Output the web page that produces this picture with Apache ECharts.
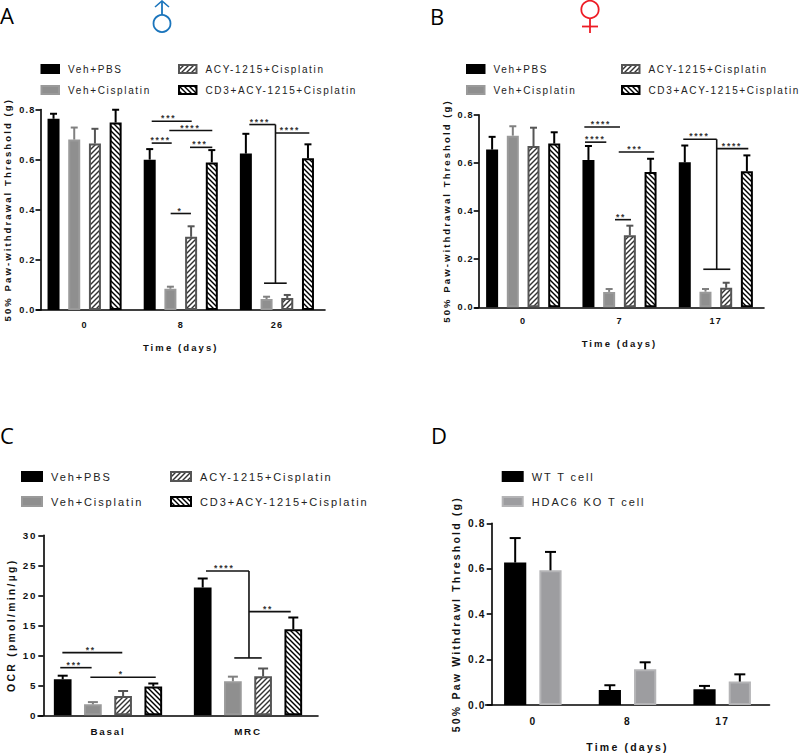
<!DOCTYPE html>
<html>
<head>
<meta charset="utf-8">
<style>
html,body{margin:0;padding:0;background:#fff}
#c{width:800px;height:753px}
text[style*="9.1px"]{letter-spacing:1.2px}
text[style*="9.8px"]{letter-spacing:1.8px}
text[style*="9.5px"]{letter-spacing:2.1px}
text[style*="10.2px"]{letter-spacing:1.2px}
text[style*="10.5px"]{letter-spacing:2.2px}
text[style*="10.4px"]{letter-spacing:2.3px}
text[style*="8.5px"]{letter-spacing:1.8px}
text[style*="10px"]{letter-spacing:1.65px}
text[style*="11px"]{letter-spacing:1.9px}
</style>
<script src="https://cdn.jsdelivr.net/npm/echarts@6/dist/echarts.min.js"></script>
</head>
<body>
<div id="c"></div>
<script>
// ---- series names
const fourNames = ['Veh+PBS', 'Veh+Cisplatin', 'ACY-1215+Cisplatin', 'CD3+ACY-1215+Cisplatin'];
const twoNames = ['WT T cell', 'HDAC6 KO T cell'];

// ---- Panel A
const aCategories = ['0', '8', '26'];
const aVehPbs = [0.763, 0.600, 0.624];
const aVehCis = [0.680, 0.085, 0.044];
const aAcy = [0.664, 0.292, 0.048];
const aCd3 = [0.748, 0.589, 0.605];
const aVehPbsTop = [0.783, 0.642, 0.703];
const aVehCisTop = [0.728, 0.093, 0.053];
const aAcyTop = [0.723, 0.334, 0.060];
const aCd3Top = [0.799, 0.638, 0.661];
const aSigLines = [[1.198,0.753,1.614,0.753],[1.381,0.716,1.828,0.716],[1.198,0.666,1.406,0.666],[1.596,0.649,1.828,0.649],[1.395,0.385,1.606,0.385],[2.213,0.740,2.485,0.740],[2.485,0.740,2.485,0.107],[2.366,0.107,2.602,0.107],[2.485,0.706,2.837,0.706]];
const aSigLabels = [[1.375,0.753,'***'],[1.600,0.716,'****'],[1.291,0.666,'****'],[1.700,0.649,'***'],[1.492,0.385,'*'],[2.324,0.740,'****'],[2.636,0.706,'****']];

// ---- Panel B
const bCategories = ['0', '7', '17'];
const bVehPbs = [0.655, 0.612, 0.602];
const bVehCis = [0.713, 0.064, 0.065];
const bAcy = [0.670, 0.299, 0.081];
const bCd3 = [0.680, 0.562, 0.565];
const bVehPbsTop = [0.708, 0.670, 0.672];
const bVehCisTop = [0.752, 0.076, 0.076];
const bAcyTop = [0.746, 0.339, 0.102];
const bCd3Top = [0.727, 0.617, 0.631];
const bSigLines = [[1.135,0.749,1.505,0.749],[1.142,0.686,1.363,0.686],[1.492,0.645,1.861,0.645],[1.453,0.364,1.619,0.364],[2.162,0.698,2.509,0.698],[2.509,0.698,2.509,0.158],[2.370,0.158,2.650,0.158],[2.509,0.659,2.837,0.659]];
const bSigLabels = [[1.308,0.749,'****'],[1.249,0.686,'****'],[1.661,0.645,'***'],[1.516,0.364,'**'],[2.329,0.698,'****'],[2.668,0.659,'****']];

// ---- Panel C
const cCategories = ['Basal', 'MRC'];
const cVehPbs = [6.0, 21.3];
const cVehCis = [1.83, 5.67];
const cAcy = [3.2, 6.5];
const cCd3 = [4.8, 14.33];
const cVehPbsTop = [6.6, 22.8];
const cVehCisTop = [2.2, 6.44];
const cAcyTop = [4.05, 7.8];
const cCd3Top = [5.3, 16.3];
const cSigLines = [[0.174,10.44,0.602,10.44],[0.159,7.94,0.383,7.94],[0.374,6.33,0.841,6.33],[1.2,24.06,1.507,24.06],[1.507,24.06,1.507,9.56],[1.402,9.56,1.598,9.56],[1.507,17.28,1.805,17.28]];
const cSigLabels = [[0.377,10.44,'**'],[0.259,7.94,'***'],[0.595,6.33,'*'],[1.331,24.06,'****'],[1.643,17.28,'**']];

// ---- Panel D
const dCategories = ['0', '8', '17'];
const dWt = [0.627, 0.066, 0.069];
const dKo = [0.593, 0.157, 0.103];
const dWtTop = [0.735, 0.087, 0.084];
const dKoTop = [0.674, 0.188, 0.135];

// ---- Axis ticks
const thresholdTicks = [0, 0.2, 0.4, 0.6, 0.8];
const ocrTicks = [0, 5, 10, 15, 20, 25, 30];

const FONT = '"Liberation Sans", Arial, sans-serif';

function hatch(dir, line, bg) {
  const n = 5, cv = document.createElement('canvas');
  cv.width = n; cv.height = n;
  const g = cv.getContext('2d');
  g.fillStyle = bg; g.fillRect(0, 0, n, n);
  g.strokeStyle = line; g.lineWidth = 1.4;
  for (let k = -n; k <= n; k += n) {
    g.beginPath();
    if (dir > 0) { g.moveTo(k - 1, n + 1); g.lineTo(k + n + 1, -1); }
    else { g.moveTo(k - 1, -1); g.lineTo(k + n + 1, n + 1); }
    g.stroke();
  }
  return {image: cv, repeat: 'repeat'};
}

const styleFour = [
  {color: '#000', borderColor: '#000', err: '#000'},
  {color: '#8f8f8f', borderColor: '#9a9a9a', err: '#808080'},
  {color: hatch(1, '#333', '#fff'), borderColor: '#555', err: '#555'},
  {color: hatch(-1, '#000', '#fff'), borderColor: '#000', err: '#000'}
];
const styleTwo = [
  {color: '#000', borderColor: '#000', err: '#000'},
  {color: '#9d9da0', borderColor: '#b4b4b6', err: '#000'}
];

const panels = [
  {letter: 'A', lx: 0, ly: 4, left: 36.5, right: 325, top: 109.5, bottom: 310, yOff: -4,
   cats: aCategories, names: fourNames, vals: [aVehPbs, aVehCis, aAcy, aCd3], tops: [aVehPbsTop, aVehCisTop, aAcyTop, aCd3Top],
   styles: styleFour, barW: 12, step: 20.7, cap: 3.5, ticks: thresholdTicks, dec: 1,
   yName: '50% Paw-withdrawal Threshold (g)', yGap: 28, xName: 'Time (days)', xGap: 32,
   xMargin: 10, yMargin: 5,
   tickFont: 9.1, nameFont: 9.5, sigLines: aSigLines, sigLabels: aSigLabels,
   leg: [{x: 40.5, y: 64}, {x: 178, y: 64}], legW: 17.5, legH: 8, legFont: 10, legGap: 11, legPad: 4},
  {letter: 'B', lx: 430, ly: 5, left: 475, right: 764, top: 114.7, bottom: 307.3, yOff: -3.7,
   cats: bCategories, names: fourNames, vals: [bVehPbs, bVehCis, bAcy, bCd3], tops: [bVehPbsTop, bVehCisTop, bAcyTop, bCd3Top],
   styles: styleFour, barW: 12, step: 20.7, cap: 3.5, ticks: thresholdTicks, dec: 1,
   yName: '50% Paw-withdrawal Threshold (g)', yGap: 27, xName: 'Time (days)', xGap: 31,
   xMargin: 9, yMargin: 5,
   tickFont: 9.1, nameFont: 9.5, sigLines: bSigLines, sigLabels: bSigLabels,
   leg: [{x: 466, y: 64}, {x: 621, y: 64}], legW: 17.5, legH: 8, legFont: 10, legGap: 11, legPad: 4},
  {letter: 'C', lx: 0, ly: 424, left: 38, right: 318, top: 535.3, bottom: 715.3, yOff: -5.3,
   cats: cCategories, names: fourNames, vals: [cVehPbs, cVehCis, cAcy, cCd3], tops: [cVehPbsTop, cVehCisTop, cAcyTop, cCd3Top],
   styles: styleFour, barW: 17.7, step: 30.2, cap: 5, ticks: ocrTicks, dec: 0,
   yName: 'OCR (pmol/min/\u00b5g)', yGap: 27, xName: '', xGap: 0,
   xMargin: 11, yMargin: 6,
   tickFont: 9.8, nameFont: 10.4, sigLines: cSigLines, sigLabels: cSigLabels,
   leg: [{x: 21, y: 471}, {x: 170, y: 471}], legW: 20, legH: 9, legFont: 11, legGap: 14, legPad: 4},
  {letter: 'D', lx: 431, ly: 424, left: 485.5, right: 769.5, top: 523.3, bottom: 705, yOff: -6.2,
   cats: dCategories, names: twoNames, vals: [dWt, dKo], tops: [dWtTop, dKoTop],
   styles: styleTwo, barW: 22.2, step: 35.3, cap: 5.5, ticks: thresholdTicks, dec: 1,
   yName: '50% Paw Withdrawl Threshold (g)', yGap: 30, xName: 'Time (days)', xGap: 36,
   xMargin: 11, yMargin: 6,
   tickFont: 10.2, nameFont: 10.5, sigLines: [], sigLabels: [],
   leg: [{x: 501.7, y: 471}], legW: 20, legH: 9, legFont: 11, legGap: 14, legPad: 4}
];

const option = {animation: false, backgroundColor: '#fff', title: [], legend: [], grid: [], xAxis: [], yAxis: [], series: [], graphic: []};

panels.forEach((p, gi) => {
  option.title.push({text: p.letter, left: p.lx, top: p.ly, padding: 0,
    textStyle: {fontFamily: '"Open Sans", sans-serif', fontSize: 22, fontWeight: 'normal', color: '#000'}});
  option.grid.push({left: p.left, top: p.top, width: p.right - p.left, height: p.bottom - p.top, containLabel: false});
  const catAxis = option.xAxis.length;
  option.xAxis.push({type: 'category', gridIndex: gi, data: p.cats, boundaryGap: true,
    axisLine: {lineStyle: {color: '#000', width: 1.6}},
    axisTick: {alignWithLabel: true, length: 4, lineStyle: {color: '#000', width: 1.6}},
    axisLabel: {margin: p.xMargin, fontFamily: FONT, fontSize: p.tickFont, fontWeight: 'bold', color: '#111'},
    name: p.xName, nameLocation: 'middle', nameGap: p.xGap,
    nameTextStyle: {fontFamily: FONT, fontSize: p.nameFont, fontWeight: 'bold', color: '#111'}});
  const posAxis = option.xAxis.length;
  option.xAxis.push({type: 'value', gridIndex: gi, min: 0, max: p.cats.length, show: false});
  const tickStep = p.ticks[1] - p.ticks[0];
  option.yAxis.push({type: 'value', gridIndex: gi, min: p.ticks[0], max: p.ticks[p.ticks.length - 1], interval: tickStep, offset: p.yOff,
    splitLine: {show: false},
    axisLine: {show: true, lineStyle: {color: '#000', width: 1.6}},
    axisTick: {show: true, length: 5, lineStyle: {color: '#000', width: 1.6}},
    axisLabel: {margin: p.yMargin, fontFamily: FONT, fontSize: p.tickFont, fontWeight: 'bold', color: '#111',
      formatter: v => v.toFixed(p.dec)},
    name: p.yName, nameLocation: 'middle', nameGap: p.yGap,
    nameTextStyle: {fontFamily: FONT, fontSize: p.nameFont, fontWeight: 'bold', color: '#111'}});

  p.names.forEach((nm, i) => {
    const st = p.styles[i];
    option.series.push({type: 'bar', name: nm, xAxisIndex: catAxis, yAxisIndex: gi, data: p.vals[i],
      barWidth: p.barW, barGap: ((p.step - p.barW) / p.barW * 100) + '%',
      itemStyle: {color: st.color, borderColor: st.borderColor, borderWidth: 2}, silent: true});
  });
  p.names.forEach((nm, i) => {
    const st = p.styles[i], off = (i - (p.names.length - 1) / 2) * p.step;
    option.series.push({type: 'custom', name: 'err' + gi + i, xAxisIndex: catAxis, yAxisIndex: gi, clip: false, silent: true, z: 3,
      data: p.vals[i].map((v, k) => [k, v, p.tops[i][k]]),
      encode: {x: 0, y: [1, 2]},
      renderItem: (params, api) => {
        const a = api.coord([api.value(0), api.value(1)]), b = api.coord([api.value(0), api.value(2)]);
        const x = a[0] + off, ls = {stroke: st.err, lineWidth: 2, fill: 'none'};
        return {type: 'group', children: [
          {type: 'line', shape: {x1: x, y1: a[1], x2: x, y2: b[1]}, style: ls},
          {type: 'line', shape: {x1: x - p.cap, y1: b[1], x2: x + p.cap, y2: b[1]}, style: ls}
        ]};
      }});
  });
  if (p.sigLines.length) {
    option.series.push({type: 'custom', name: 'sig' + gi, xAxisIndex: posAxis, yAxisIndex: gi, clip: false, silent: true, z: 6,
      data: p.sigLines, encode: {x: [0, 2], y: [1, 3]},
      renderItem: (params, api) => {
        const a = api.coord([api.value(0), api.value(1)]), b = api.coord([api.value(2), api.value(3)]);
        return {type: 'line', shape: {x1: a[0], y1: a[1], x2: b[0], y2: b[1]}, style: {stroke: '#111', lineWidth: 1.6, fill: 'none'}};
      }});
    option.series.push({type: 'custom', name: 'stars' + gi, xAxisIndex: posAxis, yAxisIndex: gi, clip: false, silent: true, z: 6,
      data: p.sigLabels, encode: {x: 0, y: 1},
      renderItem: (params, api) => {
        const a = api.coord([api.value(0), api.value(1)]);
        return {type: 'text', style: {text: p.sigLabels[params.dataIndex][2], x: a[0], y: a[1] - 3, align: 'center', verticalAlign: 'middle',
          font: 'bold 8.5px ' + FONT, fill: '#333'}};
      }});
  }
  const perCol = 2;
  p.leg.forEach((l, c) => {
    option.legend.push({left: l.x, top: l.y, orient: 'vertical', padding: 0, selectedMode: false,
      itemWidth: p.legW, itemHeight: p.legH, itemGap: p.legGap, icon: 'rect',
      data: p.names.slice(c * perCol, (c + 1) * perCol),
      textStyle: {fontFamily: FONT, fontSize: p.legFont, color: '#222', padding: [0, 0, 0, p.legPad]}});
  });
});

// sex symbols
const maleC = '#1b75bc', femaleC = '#ee1c25';
option.graphic = [
  {type: 'circle', shape: {cx: 162, cy: 23.5, r: 8.5}, style: {stroke: maleC, fill: 'none', lineWidth: 1.8}},
  {type: 'line', shape: {x1: 162, y1: 15, x2: 162, y2: 1}, style: {stroke: maleC, lineWidth: 1.8}},
  {type: 'polyline', shape: {points: [[155, 7], [162, 1], [169, 7]]}, style: {stroke: maleC, fill: 'none', lineWidth: 1.6}},
  {type: 'circle', shape: {cx: 590, cy: 9.5, r: 8.7}, style: {stroke: femaleC, fill: 'none', lineWidth: 1.8}},
  {type: 'line', shape: {x1: 590, y1: 18, x2: 590, y2: 33}, style: {stroke: femaleC, lineWidth: 1.8}},
  {type: 'line', shape: {x1: 582, y1: 26.5, x2: 598, y2: 26.5}, style: {stroke: femaleC, lineWidth: 1.8}}
];

const chart = echarts.init(document.getElementById('c'), null, {renderer: 'svg', width: 800, height: 753});
chart.setOption(option);
</script>
</body>
</html>
